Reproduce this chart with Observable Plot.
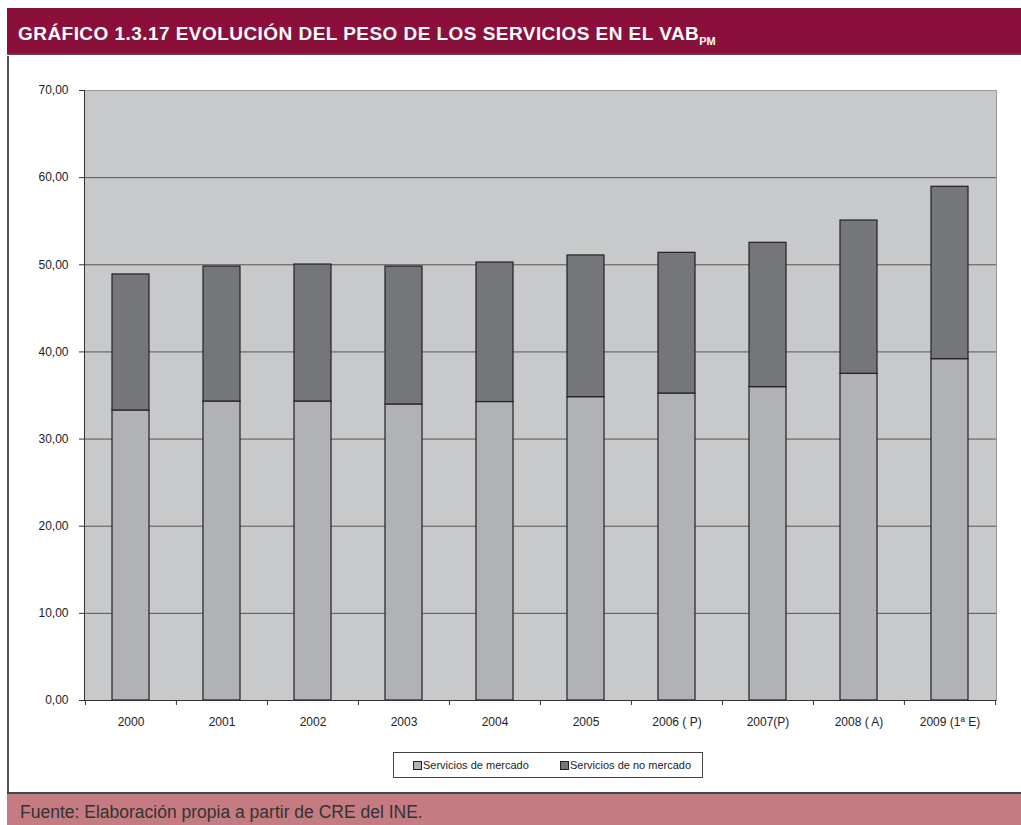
<!DOCTYPE html>
<html><head><meta charset="utf-8">
<script src="https://cdn.jsdelivr.net/npm/d3@7"></script>
<script src="https://cdn.jsdelivr.net/npm/@observablehq/plot@0.6"></script>
<style>
body{margin:0;background:#fff;width:1021px;height:825px;overflow:hidden;position:relative;font-family:"Liberation Sans Narrow","Arial Narrow",sans-serif;}
#title{position:absolute;left:7px;top:8px;width:1014px;height:47px;background:#8A0F3A;border-bottom:2px solid #4a4a4a;color:#fff;font-weight:bold;font-size:19px;letter-spacing:0.45px;line-height:52px;padding-left:11px;box-sizing:border-box;white-space:nowrap;overflow:hidden;}
#title sub{font-size:11px;vertical-align:-5px;letter-spacing:0;}
#leftline{position:absolute;left:7px;top:56px;width:2px;height:737px;background:#555;}
#chart{position:absolute;left:0;top:56px;}
#legend{position:absolute;left:393px;top:752px;width:310px;height:26px;border:1px solid #444;box-sizing:border-box;font-size:11px;color:#222;}
#legend .it{position:absolute;top:6px;white-space:nowrap;}
#legend .sw{display:inline-block;width:7px;height:7px;border:1px solid #222;margin-right:1px;vertical-align:-1px;}
#footer{position:absolute;left:7px;top:792px;width:1014px;height:33px;background:#C47B81;border-top:2px solid #444;font-family:"Liberation Sans",Arial,sans-serif;font-size:17.5px;color:#333;padding-left:13px;line-height:37px;box-sizing:border-box;white-space:nowrap;overflow:hidden;}
</style>
</head><body>
<div id="title">GRÁFICO 1.3.17 EVOLUCIÓN DEL PESO DE LOS SERVICIOS EN EL VAB<sub>PM</sub></div>
<div id="leftline"></div>
<div id="chart"></div>
<div id="legend"></div>
<div id="footer">Fuente: Elaboración propia a partir de CRE del INE.</div>
<script>
const years = ["2000","2001","2002","2003","2004","2005","2006 ( P)","2007(P)","2008 ( A)","2009 (1ª E)"];
const series = ["Servicios de mercado","Servicios de no mercado"];
const mercado = [33.28,34.31,34.31,33.97,34.25,34.81,35.23,35.96,37.49,39.17];
const noMercado = [15.61,15.49,15.72,15.83,16.01,16.26,16.14,16.56,17.59,19.78];
const yTicks = [0,10,20,30,40,50,60,70];
const colors = ["#B1B2B5","#75767A"];

const rows = years.flatMap((y,i)=>[
  {year:y, serie:series[0], v:mercado[i]},
  {year:y, serie:series[1], v:noMercado[i]}
]);
const fmt = d => d3.format(".2f")(d).replace(".", ",");
const font = '"Liberation Sans Narrow","Arial Narrow",sans-serif';

const plot = Plot.plot({
  width:1021, height:680,
  marginLeft:84, marginRight:25, marginTop:34, marginBottom:36,
  style:{fontFamily:font, fontSize:"12px", color:"#222", background:"transparent", overflow:"visible"},
  x:{domain:years, paddingInner:0.59, paddingOuter:0.295, label:null},
  y:{domain:[0,70], label:null},
  color:{domain:series, range:colors},
  marks:[
    Plot.frame({fill:"#C8C9CB", stroke:"#9a9a9a"}),
    Plot.ruleY(yTicks.slice(1,-1), {stroke:"#555", strokeWidth:1}),
    Plot.barY(rows, {x:"year", y:"v", fill:"serie", stroke:"#222", strokeWidth:1.2, order:series}),
    Plot.axisY(yTicks, {tickFormat:fmt, tickSize:5, tickPadding:11, stroke:"#333", label:null}),
    Plot.axisX(years, {tickSize:5, dx:-45.6, text:null, stroke:"#333", label:null}),
    Plot.axisX([years[years.length-1]], {tickSize:5, dx:45.6, text:null, stroke:"#333", label:null}),
    Plot.axisX(years, {tickSize:0, tickPadding:17, label:null}),
    Plot.frame({anchor:"left", stroke:"#333"}),
    Plot.ruleY([0], {stroke:"#333"})
  ]
});
document.getElementById("chart").appendChild(plot);

const lg = document.getElementById("legend");
const pos = [19, 166];
series.forEach((s,i)=>{
  const it = document.createElement("span");
  it.className = "it";
  it.style.left = pos[i] + "px";
  it.innerHTML = `<span class="sw" style="background:${colors[i]}"></span>${s}`;
  lg.appendChild(it);
});
</script>
</body></html>
